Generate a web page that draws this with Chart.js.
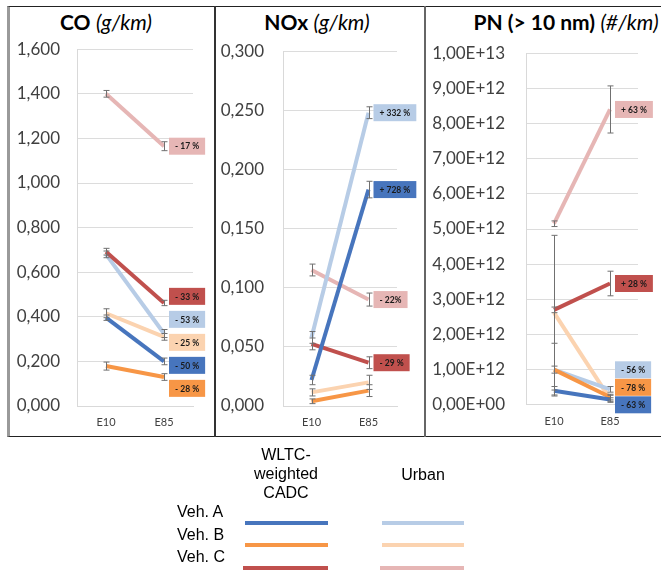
<!DOCTYPE html>
<html>
<head>
<meta charset="utf-8">
<script src="https://cdn.jsdelivr.net/npm/chart.js@4.4.1/dist/chart.umd.min.js"></script>
<style>
  body { margin: 0; background: #fff; }
  #page { position: relative; width: 661px; height: 571px; overflow: hidden; font-family: Lato, sans-serif; }
  #frame { position: absolute; left: 7px; top: 6px; width: 660px; height: 431px; box-sizing: border-box;
           border: 1.5px solid #222; border-left: 3px solid #9a9a9a; }
  .sep { position: absolute; top: 6px; height: 431px; width: 1.5px; background: #333; }
  .box { position: absolute; top: 22px; height: 414px; }
  .title { position: absolute; top: 9px; width: 260px; text-align: center; font-size: 21px; white-space: nowrap; color: #000; }
  .title b { font-weight: 700; }
  .title i { font-weight: 400; }
  #legend { position: absolute; left: 0; top: 0; width: 661px; height: 571px; font-family: "Liberation Sans", Arial, sans-serif; font-size: 16px; color: #000; }
  #legend div { position: absolute; line-height: 19px; }
  #legend .nw { white-space: nowrap; }
</style>
</head>
<body>
<div id="page">
  <div id="frame"></div>
  <div class="sep" style="left:214px"></div>
  <div class="sep" style="left:424px; background:#666"></div>

  <div class="title" style="left:-24px"><b>CO</b> <i>(g/km)</i></div>
  <div class="title" style="left:187px"><b>NOx</b> <i>(g/km)</i></div>
  <div class="title" style="left:436px"><b>PN (&gt; 10 nm)</b> <i>(#/km)</i></div>

  <div class="box" style="left:10px; width:204px"><canvas id="coChart"></canvas></div>
  <div class="box" style="left:216px; width:208px"><canvas id="noxChart"></canvas></div>
  <div class="box" style="left:426px; width:235px"><canvas id="pnChart"></canvas></div>

  <div id="legend"></div>
</div>

<script>
const CATEGORIES = ['E10', 'E85'];
const VEHICLES = ['Veh. A', 'Veh. B', 'Veh. C'];
const CYCLES = ['WLTC-weighted CADC', 'Urban'];
const WLTC_COLORS = ['#4775bd', '#f79646', '#c0504d'];
const URBAN_COLORS = ['#b7cce6', '#fbd3b0', '#e6b6b5'];

// CO (g/km), one [E10, E85] pair per vehicle
const coWltc = [[0.396, 0.200], [0.179, 0.130], [0.692, 0.462]];
const coUrban = [[0.680, 0.325], [0.416, 0.310], [1.400, 1.165]];
const coWltcErr = [[0.012, 0.015], [0.018, 0.015], [0.015, 0.012]];
const coUrbanErr = [[0.015, 0.018], [0.020, 0.015], [0.015, 0.020]];
const coWltcChange = ['- 50 %', '- 28 %', '- 33 %'];
const coUrbanChange = ['- 53 %', '- 25 %', '- 17 %'];
const coTicks = ['0,000', '0,200', '0,400', '0,600', '0,800', '1,000', '1,200', '1,400', '1,600'];

// NOx (g/km)
const noxWltc = [[0.022, 0.183], [0.004, 0.013], [0.0525, 0.0366]];
const noxUrban = [[0.058, 0.248], [0.0115, 0.020], [0.115, 0.090]];
const noxWltcErr = [[0.004, 0.007], [0.002, 0.005], [0.005, 0.005]];
const noxUrbanErr = [[0.005, 0.005], [0.003, 0.006], [0.005, 0.0055]];
const noxWltcChange = ['+ 728 %', null, '- 29 %'];
const noxUrbanChange = ['+ 332 %', null, '- 22%'];
const noxTicks = ['0,000', '0,050', '0,100', '0,150', '0,200', '0,250', '0,300'];

// PN > 10 nm (#/km)
const pnWltc = [[0.40e12, 0.15e12], [1.00e12, 0.22e12], [2.70e12, 3.45e12]];
const pnUrban = [[1.00e12, 0.44e12], [2.62e12, 0.17e12], [5.15e12, 8.40e12]];
const pnWltcErr = [[0.12e12, 0.05e12], [0.75e12, 0.08e12], [0.08e12, 0.35e12]];
const pnUrbanErr = [[0.10e12, 0.08e12], [2.20e12, 0.10e12], [0.08e12, 0.67e12]];
const pnWltcChange = ['- 63 %', '- 78 %', '+ 28 %'];
const pnUrbanChange = ['- 56 %', null, '+ 63 %'];
const pnTicks = ['0,00E+00', '1,00E+12', '2,00E+12', '3,00E+12', '4,00E+12', '5,00E+12',
                 '6,00E+12', '7,00E+12', '8,00E+12', '9,00E+12', '1,00E+13'];

// grey error bars with small caps
const errorBars = {
  id: 'errorBars',
  afterDatasetsDraw(chart) {
    const ctx = chart.ctx, y = chart.scales.y;
    ctx.save();
    ctx.strokeStyle = '#707070';
    ctx.lineWidth = 1;
    chart.data.datasets.forEach((ds, di) => {
      const meta = chart.getDatasetMeta(di);
      ds.errors.forEach((e, i) => {
        const v = ds.data[i];
        const top = y.getPixelForValue(v + e), bot = y.getPixelForValue(v - e);
        const x = Math.round(meta.data[i].x) + 0.5;
        ctx.beginPath();
        ctx.moveTo(x, top); ctx.lineTo(x, bot);
        ctx.moveTo(x - 3, top); ctx.lineTo(x + 3, top);
        ctx.moveTo(x - 3, bot); ctx.lineTo(x + 3, bot);
        ctx.stroke();
      });
    });
    ctx.restore();
  }
};

// coloured % change boxes next to the E85 points, pushed apart when they collide
const changeLabels = {
  id: 'changeLabels',
  afterDatasetsDraw(chart, args, opts) {
    const ctx = chart.ctx, gap = opts.gap, bottom = chart.chartArea.bottom;
    const items = [];
    chart.data.datasets.forEach((ds, di) => {
      if (!ds.change) return;
      const pt = chart.getDatasetMeta(di).data[1];
      items.push({ text: ds.change, color: ds.borderColor, x: pt.x, ideal: pt.y });
    });
    items.sort((a, b) => a.ideal - b.ideal);

    const groups = [];
    const topOf = g => g.sum / g.items.length - (g.items.length - 1) * gap / 2;
    items.forEach(it => {
      groups.push({ items: [it], sum: it.ideal });
      while (groups.length > 1) {
        const b = groups[groups.length - 1], a = groups[groups.length - 2];
        if (topOf(a) + a.items.length * gap <= topOf(b)) break;
        a.items.push(...b.items);
        a.sum += b.sum;
        groups.pop();
      }
    });
    const ys = [];
    groups.forEach(g => {
      const t = topOf(g);
      g.items.forEach((it, k) => ys.push(t + k * gap));
    });
    for (let k = ys.length - 1; k >= 0; k--) {
      ys[k] = Math.min(ys[k], k === ys.length - 1 ? bottom : ys[k + 1] - gap);
    }

    ctx.save();
    ctx.font = 'bold 8.5px Lato';
    ctx.textAlign = 'center';
    ctx.textBaseline = 'middle';
    items.forEach((it, k) => {
      const w = Math.max(34, ctx.measureText(it.text).width + 12);
      const left = it.x + 5;
      ctx.fillStyle = it.color;
      ctx.fillRect(left, ys[k] - 8.5, w, 17);
      ctx.fillStyle = '#1a1a1a';
      ctx.fillText(it.text, left + w / 2, ys[k] + 0.5);
    });
    ctx.restore();
  }
};

function buildDatasets(wltc, urban, wErr, uErr, wChg, uChg) {
  const sets = [];
  wltc.forEach((v, i) => sets.push({
    label: VEHICLES[i] + ' ' + CYCLES[0], data: v, errors: wErr[i], change: wChg[i],
    borderColor: WLTC_COLORS[i], backgroundColor: WLTC_COLORS[i]
  }));
  urban.forEach((v, i) => sets.push({
    label: VEHICLES[i] + ' ' + CYCLES[1], data: v, errors: uErr[i], change: uChg[i],
    borderColor: URBAN_COLORS[i], backgroundColor: URBAN_COLORS[i]
  }));
  return sets;
}

function makeChart(id, cfg) {
  new Chart(document.getElementById(id), {
    type: 'line',
    data: { labels: CATEGORIES, datasets: cfg.datasets },
    plugins: [errorBars, changeLabels],
    options: {
      responsive: true,
      maintainAspectRatio: false,
      animation: false,
      events: [],
      layout: { padding: { top: 12, right: cfg.padRight, left: 0, bottom: 0 } },
      elements: {
        line: { borderWidth: 4, tension: 0 },
        point: { radius: 0, hoverRadius: 0 }
      },
      plugins: {
        legend: { display: false },
        tooltip: { enabled: false },
        changeLabels: { gap: cfg.gap }
      },
      scales: {
        x: {
          offset: true,
          grid: { display: false, drawTicks: false },
          border: { display: true, color: '#d9d9d9' },
          ticks: { color: '#404040', padding: 10, font: { family: 'Lato', size: 11 } },
          afterFit: s => { s.height = 30; }
        },
        y: {
          min: 0,
          max: cfg.max,
          grid: { color: '#dcdcdc', drawTicks: false },
          border: { display: true, color: '#d9d9d9' },
          ticks: {
            stepSize: cfg.step,
            padding: cfg.tickPad,
            color: '#404040',
            font: { family: 'Lato', size: 17 },
            callback: (v, i) => cfg.ticks[i]
          },
          afterFit: s => { s.width = cfg.yWidth; }
        }
      }
    }
  });
}

makeChart('coChart', {
  datasets: buildDatasets(coWltc, coUrban, coWltcErr, coUrbanErr, coWltcChange, coUrbanChange),
  max: 1.6, step: 0.2, ticks: coTicks, yWidth: 67, padRight: 21, tickPad: 17, gap: 23
});
makeChart('noxChart', {
  datasets: buildDatasets(noxWltc, noxUrban, noxWltcErr, noxUrbanErr, noxWltcChange, noxUrbanChange),
  max: 0.3, step: 0.05, ticks: noxTicks, yWidth: 67, padRight: 27, tickPad: 19, gap: 20
});
makeChart('pnChart', {
  datasets: buildDatasets(pnWltc, pnUrban, pnWltcErr, pnUrbanErr, pnWltcChange, pnUrbanChange),
  max: 1e13, step: 1e12, ticks: pnTicks, yWidth: 100, padRight: 23, tickPad: 21, gap: 17.5
});

// legend table below the panels
const legend = document.getElementById('legend');
function addText(text, css, cls) {
  const d = document.createElement('div');
  d.textContent = text;
  if (cls) d.className = cls;
  Object.assign(d.style, css);
  legend.appendChild(d);
}
function addLine(color, css) {
  const d = document.createElement('div');
  Object.assign(d.style, { background: color, height: '4px' }, css);
  legend.appendChild(d);
}
addText(CYCLES[0], { left: '248px', top: '445px', width: '76px', textAlign: 'center' });
addText(CYCLES[1], { left: '385px', top: '465px', width: '76px', textAlign: 'center' });
const rowY = [512, 535, 557];
const lineY = [521, 543, 566];
VEHICLES.forEach((v, i) => {
  addText(v, { left: '177px', top: (rowY[i] - 10) + 'px' }, 'nw');
  addLine(WLTC_COLORS[i], { left: (i === 2 ? 243 : 245) + 'px', width: (i === 2 ? 85 : 83) + 'px', top: lineY[i] + 'px' });
  addLine(URBAN_COLORS[i], { left: (i === 2 ? 380 : 382) + 'px', width: (i === 2 ? 84 : 82) + 'px', top: lineY[i] + 'px' });
});
</script>
</body>
</html>
